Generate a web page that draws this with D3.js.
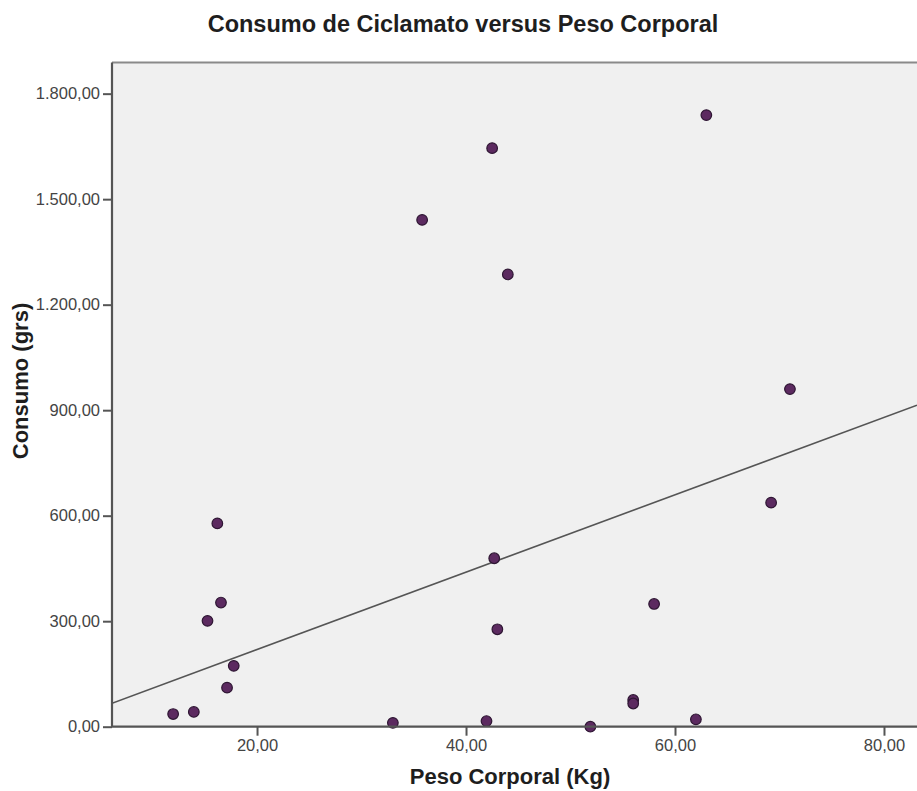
<!DOCTYPE html>
<html>
<head>
<meta charset="utf-8">
<script src="https://cdn.jsdelivr.net/npm/d3@7"></script>
<style>
  html, body { margin: 0; padding: 0; background: #fff; }
  svg { display: block; }
  text { font-family: "Liberation Sans", Arial, sans-serif; }
</style>
</head>
<body>
<svg id="chart" width="917" height="791"></svg>
<script>
// ---- data ----
const pesoKg  = [11.97, 13.95, 15.26, 16.2, 16.55, 17.13, 17.77, 33.0, 35.8, 41.96, 42.5, 42.7, 43.0, 44.0, 51.9, 56.0, 56.0, 58.0, 62.0, 63.0, 69.2, 71.0];
const consumo = [36, 42, 301, 578, 353, 111, 173, 11, 1441, 16, 1645, 479, 277, 1286, 0, 76, 66, 349, 21, 1739, 637, 960];
const xTicks = [20, 40, 60, 80];
const yTicks = [0, 300, 600, 900, 1200, 1500, 1800];
const fitIntercept = -0.6;
const fitSlope = 11.0;
const chartTitle = "Consumo de Ciclamato versus Peso Corporal";
const xTitle = "Peso Corporal (Kg)";
const yTitle = "Consumo (grs)";

// ---- layout ----
const svg = d3.select("#chart");
const pLeft = 112, pRight = 917, pTop = 62.5, pBottom = 726.7;

const x = d3.scaleLinear().domain([6.12, 83.16]).range([pLeft, pRight]);
const y = d3.scaleLinear().domain([0, 1888.6]).range([pBottom, pTop]);

const loc = d3.formatLocale({decimal: ",", thousands: ".", grouping: [3], currency: ["", ""]});
const fmt = loc.format(",.2f");

// plot background
svg.append("rect")
  .attr("x", pLeft).attr("y", pTop)
  .attr("width", pRight - pLeft + 5).attr("height", pBottom - pTop)
  .attr("fill", "#f0f0f0");

// top border
svg.append("line")
  .attr("x1", pLeft).attr("x2", pRight + 5)
  .attr("y1", pTop).attr("y2", pTop)
  .attr("stroke", "#8a8a8a").attr("stroke-width", 2);

// clip for data
svg.append("clipPath").attr("id", "clip")
  .append("rect").attr("x", pLeft).attr("y", pTop)
  .attr("width", pRight - pLeft).attr("height", pBottom - pTop);

// fit line
const xd = x.domain();
svg.append("line")
  .attr("clip-path", "url(#clip)")
  .attr("x1", x(xd[0])).attr("y1", y(fitIntercept + fitSlope * xd[0]))
  .attr("x2", x(xd[1])).attr("y2", y(fitIntercept + fitSlope * xd[1]))
  .attr("stroke", "#555").attr("stroke-width", 1.6);

// points
const pts = pesoKg.map((v, i) => ({x: v, y: consumo[i]}));
svg.append("g")
  .selectAll("circle").data(pts).enter().append("circle")
  .attr("cx", d => x(d.x)).attr("cy", d => y(d.y))
  .attr("r", 5.3)
  .attr("fill", "#5c2a60")
  .attr("stroke", "#2e1633").attr("stroke-width", 1.2);

// axes
const xAxis = svg.append("g")
  .attr("transform", `translate(0,${pBottom})`)
  .call(d3.axisBottom(x).tickValues(xTicks).tickFormat(fmt).tickSize(9).tickSizeOuter(0).tickPadding(4));
const yAxis = svg.append("g")
  .attr("transform", `translate(${pLeft},0)`)
  .call(d3.axisLeft(y).tickValues(yTicks).tickFormat(fmt).tickSize(9).tickSizeOuter(0).tickPadding(3));

[xAxis, yAxis].forEach(a => {
  a.select(".domain").attr("stroke", "#555").attr("stroke-width", 2.2);
  a.selectAll(".tick line").attr("stroke", "#555").attr("stroke-width", 2);
  a.selectAll(".tick text")
    .attr("fill", "#444")
    .style("font-family", '"Liberation Sans", Arial, sans-serif')
    .style("font-size", "16.5px");
});
xAxis.select(".domain").attr("d", `M${pLeft - 1},0H${pRight + 5}`);
yAxis.select(".domain").attr("d", `M0,${pTop}V${pBottom}`);

// titles
svg.append("text")
  .attr("x", 463).attr("y", 32)
  .attr("text-anchor", "middle")
  .attr("fill", "#1e1e1e")
  .style("font-weight", "bold").style("font-size", "23.5px")
  .text(chartTitle);

svg.append("text")
  .attr("x", 510).attr("y", 784)
  .attr("text-anchor", "middle")
  .attr("fill", "#1e1e1e")
  .style("font-weight", "bold").style("font-size", "22px")
  .text(xTitle);

svg.append("text")
  .attr("transform", "translate(28,381) rotate(-90)")
  .attr("text-anchor", "middle")
  .attr("fill", "#1e1e1e")
  .style("font-weight", "bold").style("font-size", "22px")
  .text(yTitle);
</script>
</body>
</html>
